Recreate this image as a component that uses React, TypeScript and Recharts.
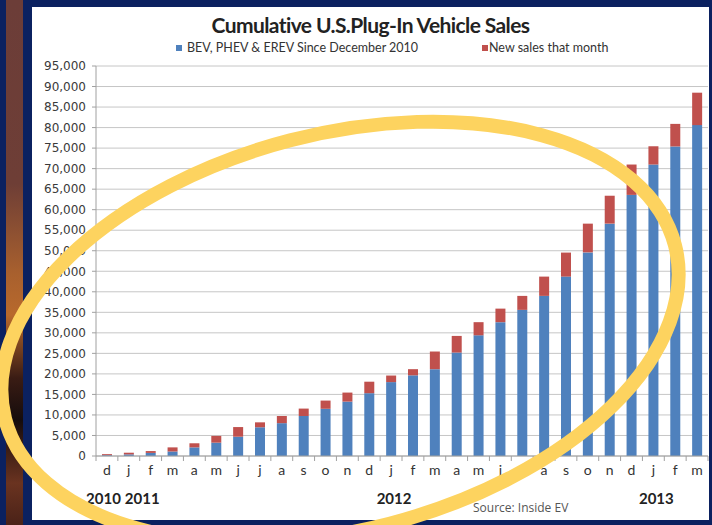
import React from 'react';
import { BarChart, Bar, XAxis, YAxis, CartesianGrid } from 'recharts';

const months = ['d','j','f','m','a','m','j','j','a','s','o','n','d','j','f','m','a','m','j','j','a','s','o','n','d','j','f','m'];
const years = ['2010','2011','','','','','','','','','','','','2012','','','','','','','','','','','','2013','',''];
const cumulativeBefore = [200, 400, 750, 1100, 2100, 3250, 4700, 7000, 8000, 9750, 11500, 13250, 15300, 18000, 19650, 21150, 25200, 29400, 32600, 35600, 39000, 43700, 49600, 56600, 63600, 71000, 75400, 80600];
const newSales = [250, 400, 450, 1000, 1000, 1650, 2350, 1200, 1750, 1800, 2000, 2200, 2800, 1600, 1500, 4300, 4050, 3200, 3300, 3400, 4700, 5850, 7000, 6800, 7400, 4450, 5500, 7900];
const yTicks = [0, 5000, 10000, 15000, 20000, 25000, 30000, 35000, 40000, 45000, 50000, 55000, 60000, 65000, 70000, 75000, 80000, 85000, 90000, 95000];
const seriesNames = ['BEV, PHEV & EREV Since December 2010', 'New sales that month'];
const titleText = 'Cumulative U.S.Plug-In Vehicle Sales';
const sourceText = 'Source: Inside EV';

const BLUE = '#4f81bd';
const RED = '#c0504d';

const data = months.map((m, i) => ({ month: m, year: years[i], cumulative: cumulativeBefore[i], monthly: newSales[i] }));

const W = 712;
const H = 525;
const PLOT_LEFT = 96;
const PLOT_RIGHT = 708;
const BAND = (PLOT_RIGHT - PLOT_LEFT) / months.length;

const XTick = (props: any) => {
  const { x, y, payload } = props;
  const idx = props.index ?? payload.index ?? 0;
  const yr = years[idx];
  let yearX = x + 3;
  let anchor: any = 'middle';
  if (idx === 0) { yearX = x + 14; anchor = 'end'; }
  else if (idx === 1) { yearX = x - 4; anchor = 'start'; }
  return (
    <g>
      <line x1={x - BAND / 2} x2={x - BAND / 2} y1={y} y2={y + 5} stroke="#a0a0a0" />
      {idx === months.length - 1 && (
        <line x1={x + BAND / 2} x2={x + BAND / 2} y1={y} y2={y + 5} stroke="#a0a0a0" />
      )}
      <text x={x} y={y + 19} textAnchor="middle" fontFamily="Lato" fontSize={14} fill="#333">
        {payload.value}
      </text>
      {yr && (
        <text x={yearX} y={y + 48} textAnchor={anchor} fontFamily="Lato" fontWeight={700} fontSize={15} fill="#222">
          {yr}
        </text>
      )}
    </g>
  );
};

const LegendBlock = () => (
  <div style={{ position: 'absolute', left: 0, top: 40, width: W, height: 18, fontFamily: 'Lato', fontSize: 12.5, color: '#333' }}>
    <div style={{ position: 'absolute', left: 176, top: 5, width: 6, height: 6, background: BLUE }} />
    <div style={{ position: 'absolute', left: 187, top: 0, whiteSpace: 'nowrap' }}>{seriesNames[0]}</div>
    <div style={{ position: 'absolute', left: 482, top: 5, width: 6, height: 6, background: RED }} />
    <div style={{ position: 'absolute', left: 489, top: 0, whiteSpace: 'nowrap' }}>{seriesNames[1]}</div>
  </div>
);

export default function App() {
  return (
    <div style={{ position: 'absolute', left: 0, top: 0, width: W, height: H, overflow: 'hidden', background: '#0b2160' }}>
      <div style={{ position: 'absolute', left: 6, top: 0, width: 17, height: H,
        background: 'linear-gradient(to bottom, #6c3d38 0%, #6e3e36 35%, #a8602e 52%, #b8692c 60%, #3a1c14 72%, #150c0c 80%, #6a3320 92%, #4a2218 100%)' }} />
      <div style={{ position: 'absolute', left: 32, top: 7, width: 677, height: 513, background: '#ffffff' }} />
      <div style={{ position: 'absolute', left: 32, top: 12, width: 677, textAlign: 'center', fontFamily: 'Lato', fontWeight: 700,
        fontSize: 21, letterSpacing: -0.6, color: '#222' }}>
        {titleText}
      </div>
      <LegendBlock />
      <div style={{ position: 'absolute', left: 0, top: 0 }}>
        <BarChart width={W} height={H} data={data} margin={{ top: 66, right: W - PLOT_RIGHT, bottom: 9, left: PLOT_LEFT - 60 }} barSize={10}>
          <CartesianGrid vertical={false} stroke="#c6c6c6" />
          <XAxis dataKey="month" tick={<XTick />} tickLine={false} tickSize={0} tickMargin={0} height={60}
            axisLine={{ stroke: '#a0a0a0' }} interval={0} />
          <YAxis width={60} domain={[0, 95000]} ticks={yTicks} interval={0}
            tickFormatter={(v: number) => v.toLocaleString('en-US')}
            tick={{ fontFamily: 'DejaVu Sans', fontSize: 12, fill: '#3a3a3a' }}
            tickSize={4} tickMargin={6} tickLine={{ stroke: '#a0a0a0' }} axisLine={{ stroke: '#a0a0a0' }} />
          <Bar dataKey="cumulative" name={seriesNames[0]} stackId="s" fill={BLUE} isAnimationActive={false} />
          <Bar dataKey="monthly" name={seriesNames[1]} stackId="s" fill={RED} isAnimationActive={false} />
        </BarChart>
      </div>
      <div style={{ position: 'absolute', left: 473, top: 499, fontFamily: 'Open Sans', fontSize: 12, color: '#555', whiteSpace: 'nowrap' }}>
        {sourceText}
      </div>
      <svg width={W} height={H} style={{ position: 'absolute', left: 0, top: 0, pointerEvents: 'none' }}>
        <ellipse cx={340} cy={332} rx={346} ry={198} transform="rotate(-14.5 340 332)" fill="none" stroke="#fdd35f" strokeWidth={14} />
      </svg>
    </div>
  );
}
